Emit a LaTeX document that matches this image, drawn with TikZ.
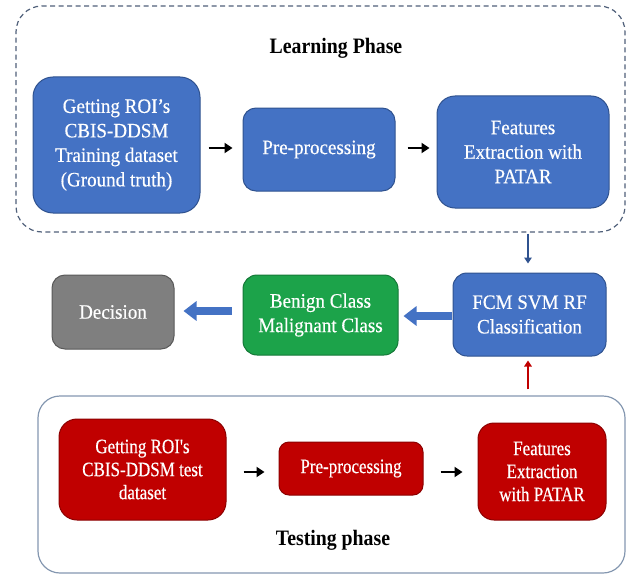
\documentclass[tikz,border=0pt]{standalone}
\usepackage{fontspec}
\setmainfont{Liberation Serif}
\newfontfamily\boxfont{Liberation Serif}[FakeStretch=0.93, FakeBold=0.4]
\newfontfamily\narrowfont{Liberation Serif}[FakeStretch=0.83, FakeBold=0.4]
\newfontfamily\titlefont{Liberation Serif}[FakeStretch=0.9]
\usetikzlibrary{arrows.meta,calc}

\definecolor{bluefill}{RGB}{68,114,196}
\definecolor{blueline}{RGB}{47,82,143}
\definecolor{greenfill}{RGB}{28,163,74}
\definecolor{greenline}{RGB}{20,120,55}
\definecolor{grayfill}{RGB}{127,127,127}
\definecolor{grayline}{RGB}{89,89,89}
\definecolor{redfill}{RGB}{192,0,0}
\definecolor{redline}{RGB}{140,0,0}
\definecolor{dashcol}{RGB}{80,96,122}
\definecolor{framecol}{RGB}{132,151,176}

\tikzset{
  stagebox/.style={rounded corners=16pt, line width=1pt, inner sep=0pt,
    align=center, text=white, font=\boxfont\fontsize{20.5}{24.5}\selectfont},
  bluebox/.style={stagebox, fill=bluefill, draw=blueline},
  greenbox/.style={stagebox, fill=greenfill, draw=greenline},
  graybox/.style={stagebox, fill=grayfill, draw=grayline},
  redbox/.style={stagebox, fill=redfill, draw=redline,
    font=\narrowfont\fontsize{20.5}{23}\selectfont},
  learnframe/.style={draw=dashcol, line width=1.2pt, dash pattern=on 5pt off 3.5pt,
    rounded corners=26pt, inner sep=0pt},
  testframe/.style={draw=framecol, line width=1.2pt, rounded corners=22pt, inner sep=0pt},
  phasetitle/.style={font=\titlefont\bfseries\fontsize{22}{26}\selectfont, text=black},
  smallarrow/.style={line width=2.6pt, -{Triangle[length=8pt,width=10pt]}},
  fatarrow/.style={draw=bluefill, line width=8.5pt, -{Triangle[length=13pt,width=19pt]}},
  thinblue/.style={draw=blueline, line width=2.6pt, -{Triangle[length=6pt,width=7.5pt]}},
  thinred/.style={draw=redfill, line width=2.6pt, -{Triangle[length=6pt,width=7.5pt]}},
}

\begin{document}
\begin{tikzpicture}[x=1pt,y=-1pt]
\useasboundingbox (0,0) rectangle (628,575);

% frames of the two phases
\node[learnframe, minimum width=609pt, minimum height=226pt] (learn) at (320.5,119) {};
\node[testframe, minimum width=587pt, minimum height=177pt] (test) at (331.5,484.5) {};

\node[phasetitle] (learntitle) at (336,48) {Learning Phase};
\node[phasetitle] (testtitle) at (333,540) {Testing phase};

% learning phase
\node[bluebox, rounded corners=20pt, minimum width=167pt, minimum height=136pt] (roi) at (116.5,145)
  {Getting ROI’s\\CBIS-DDSM\\Training dataset\\(Ground truth)};
\node[bluebox, rounded corners=13pt, minimum width=152pt, minimum height=83pt] (pre) at (319,149.5)
  {Pre-processing};
\node[bluebox, rounded corners=18pt, minimum width=172pt, minimum height=112pt] (feat) at (523,152)
  {Features\\Extraction with\\PATAR};

% classification and decision
\node[bluebox, rounded corners=14pt, minimum width=153pt, minimum height=83pt] (clf) at (529.5,314.5)
  {FCM SVM RF\\Classification};
\node[greenbox, rounded corners=14pt, minimum width=155pt, minimum height=80pt] (cls) at (320.5,315)
  {Benign Class\\Malignant Class};
\node[graybox, rounded corners=13pt, minimum width=122pt, minimum height=74pt] (dec) at (113,312)
  {Decision};

% testing phase
\node[redbox, rounded corners=18pt, minimum width=167pt, minimum height=101pt] (troi) at (142.5,469.5)
  {Getting ROI's\\CBIS-DDSM test\\dataset};
\node[redbox, rounded corners=10pt, minimum width=144pt, minimum height=53pt] (tpre) at (351,468.5)
  {Pre-processing};
\node[redbox, rounded corners=16pt, minimum width=128pt, minimum height=97pt] (tfeat) at (542,471.5)
  {Features\\Extraction\\with PATAR};

% connectors
\draw[smallarrow, shorten <=8pt, shorten >=10pt] (roi.east |- 0,148) -- (pre.west |- 0,148);
\draw[smallarrow, shorten <=12pt, shorten >=7pt] (pre.east |- 0,148) -- (feat.west |- 0,148);
\draw[smallarrow, shorten <=17pt, shorten >=14pt] (troi.east |- 0,472) -- (tpre.west |- 0,472);
\draw[smallarrow, shorten <=17pt, shorten >=15pt] (tpre.east |- 0,472) -- (tfeat.west |- 0,472);

\draw[thinblue, shorten <=1pt, shorten >=9pt] (learn.south -| 528,0) -- (clf.north -| 528,0);
\draw[thinred, shorten <=6pt, shorten >=4pt] (test.north -| 528,0) -- (clf.south -| 528,0);

\draw[fatarrow, shorten <=1pt, shorten >=5pt] (clf.west |- 0,316) -- (cls.east |- 0,316);
\draw[fatarrow, shorten <=11pt, shorten >=9pt] (cls.west |- 0,311) -- (dec.east |- 0,311);
\end{tikzpicture}
\end{document}
